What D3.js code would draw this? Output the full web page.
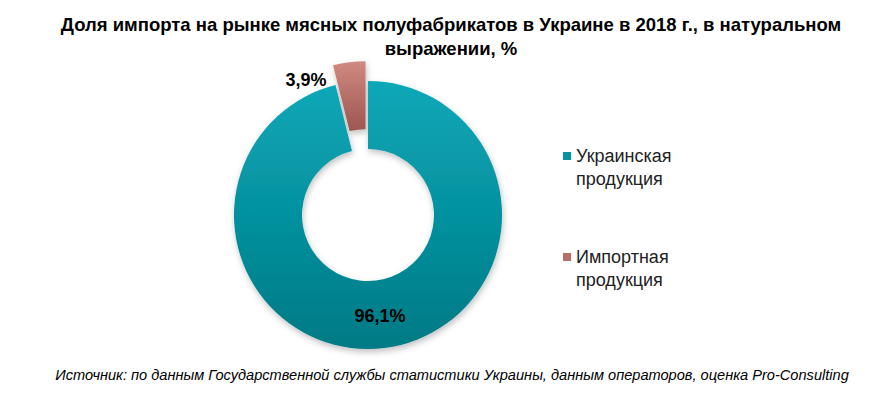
<!DOCTYPE html>
<html lang="ru">
<head>
<meta charset="UTF-8">
<title>Доля импорта</title>
<script src="https://d3js.org/d3.v7.min.js"></script>
<style>
    body { margin: 0; background: #fff; }
    .title { font-family: "Liberation Sans", Arial, sans-serif; font-weight: bold; font-size: 18.5px; }
    .lbl { font-family: "Liberation Sans", Arial, sans-serif; font-weight: bold; font-size: 18px; }
    .legend { font-family: "Liberation Sans", Arial, sans-serif; font-size: 18px; fill: #222; }
    .source { font-family: "Liberation Sans", Arial, sans-serif; font-style: italic; font-size: 14.6px; }
</style>
</head>
<body>
<div id="chart"></div>
<script>
// data
const categories = ["Украинская продукция", "Импортная продукция"];
const values = [96.1, 3.9];
const valueLabels = ["96,1%", "3,9%"];
const legendLines = [["Украинская", "продукция"], ["Импортная", "продукция"]];

const width = 886, height = 397;
const cx = 368, cy = 215;
const outerR = 134, innerR = 66;

const svg = d3.select("#chart").append("svg")
    .attr("width", width)
    .attr("height", height);

const defs = svg.append("defs");
const grads = [
    { id: "gTeal", top: "#0aa8b8", bottom: "#017a85" },
    { id: "gPink", top: "#d08a82", bottom: "#9c5650" }
];
grads.forEach(g => {
    const lg = defs.append("linearGradient").attr("id", g.id)
        .attr("x1", 0).attr("y1", 0).attr("x2", 0).attr("y2", 1);
    lg.append("stop").attr("offset", "0%").attr("stop-color", g.top);
    lg.append("stop").attr("offset", "100%").attr("stop-color", g.bottom);
});
const shadow = defs.append("filter").attr("id", "shadow")
    .attr("x", "-20%").attr("y", "-20%").attr("width", "140%").attr("height", "140%");
shadow.append("feDropShadow").attr("dx", 1).attr("dy", 3).attr("stdDeviation", 3)
    .attr("flood-color", "#000").attr("flood-opacity", 0.25);

const fills = ["url(#gTeal)", "url(#gPink)"];
const swatch = ["#05939f", "#b86e67"];

// title
const title = svg.append("text").attr("class", "title").attr("text-anchor", "middle");
title.append("tspan").attr("x", 451).attr("y", 31)
    .text("Доля импорта на рынке мясных полуфабрикатов в Украине в 2018 г., в натуральном");
title.append("tspan").attr("x", 451).attr("y", 55).text("выражении, %");

// donut
const pie = d3.pie().sort(null).value(d => d);
const arc = d3.arc().innerRadius(innerR).outerRadius(outerR);
const arcs = pie(values);
const explode = [0, 20];

const g = svg.append("g").attr("transform", `translate(${cx},${cy})`).attr("filter", "url(#shadow)");
g.selectAll("path")
    .data(arcs)
    .enter().append("path")
    .attr("d", arc)
    .attr("fill", (d, i) => fills[i])
    .attr("transform", (d, i) => {
        const mid = (d.startAngle + d.endAngle) / 2;
        return `translate(${Math.sin(mid) * explode[i]},${-Math.cos(mid) * explode[i]})`;
    });

// value labels
const labelPos = [
    d => [12, 107],
    d => [-62, -129]
];
svg.append("g").attr("transform", `translate(${cx},${cy})`)
    .selectAll("text")
    .data(arcs)
    .enter().append("text")
    .attr("class", "lbl")
    .attr("text-anchor", "middle")
    .attr("x", (d, i) => labelPos[i](d)[0])
    .attr("y", (d, i) => labelPos[i](d)[1])
    .text((d, i) => valueLabels[i]);

// legend
const legend = svg.append("g").attr("transform", "translate(563,0)");
const ly = [156, 257];
categories.forEach((c, i) => {
    legend.append("rect").attr("x", 0).attr("y", ly[i] - 4).attr("width", 8).attr("height", 8)
        .attr("fill", swatch[i]);
    legend.append("text").attr("class", "legend").attr("x", 13).attr("y", ly[i] + 6).text(legendLines[i][0]);
    legend.append("text").attr("class", "legend").attr("x", 13).attr("y", ly[i] + 29).text(legendLines[i][1]);
});

// source
svg.append("text").attr("class", "source")
    .attr("x", 452).attr("y", 380).attr("text-anchor", "middle")
    .text("Источник: по данным Государственной службы статистики Украины, данным операторов, оценка Pro-Consulting");
</script>
</body>
</html>
